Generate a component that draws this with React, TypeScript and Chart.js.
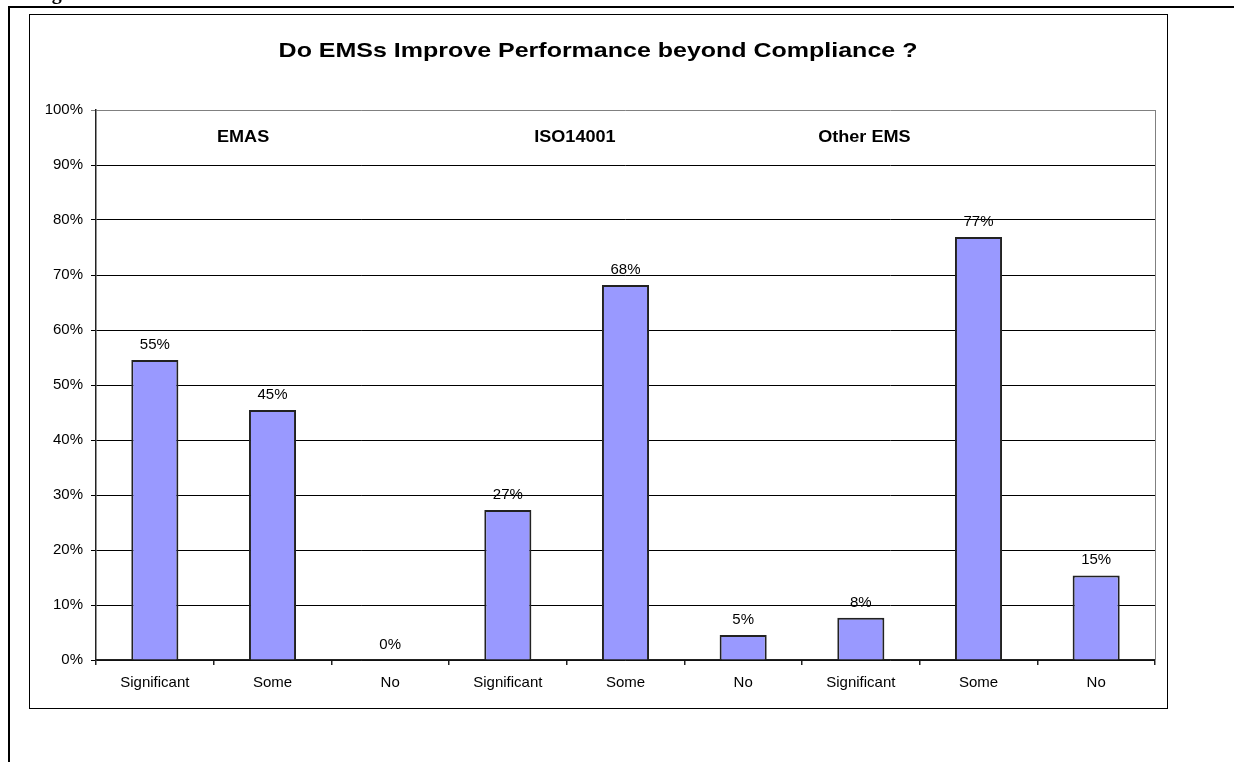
import React, { useEffect, useRef } from "react";
import { Chart, registerables } from "chart.js";

Chart.register(...registerables);

// Survey answers per EMS type
const CATEGORIES = ["Significant", "Some", "No", "Significant", "Some", "No", "Significant", "Some", "No"];
const SHARES = [54.55, 45.45, 0, 27.27, 68.18, 4.55, 7.69, 76.92, 15.38];
const GROUPS = ["EMAS", "ISO14001", "Other EMS"];
const TITLE = "Do EMSs Improve Performance beyond Compliance ?";
const Y_MAX = 100;
const Y_STEP = 10;

// Where each group caption sits, in category-index units
const GROUP_AT = [0.75, 3.57, 6.03];

const SANS = "'Liberation Sans', Arial, sans-serif";

const annotations = {
  id: "annotations",
  afterDatasetsDraw(chart: any) {
    const { ctx, chartArea } = chart;
    const x = chart.scales.x;
    ctx.save();

    // plot-area right edge
    ctx.strokeStyle = "#808080";
    ctx.lineWidth = 1;
    ctx.beginPath();
    ctx.moveTo(Math.round(chartArea.right) + 0.5, chartArea.top);
    ctx.lineTo(Math.round(chartArea.right) + 0.5, chartArea.bottom);
    ctx.stroke();

    // value labels
    ctx.fillStyle = "#000";
    ctx.font = `15px ${SANS}`;
    ctx.textAlign = "center";
    ctx.textBaseline = "alphabetic";
    const meta = chart.getDatasetMeta(0);
    meta.data.forEach((bar: any, i: number) => {
      ctx.fillText(`${Math.round(SHARES[i])}%`, bar.x, bar.y - 11);
    });

    // group captions (stretched bold text)
    ctx.font = `bold 16px ${SANS}`;
    GROUPS.forEach((g, i) => {
      ctx.save();
      ctx.translate(x.getPixelForValue(GROUP_AT[i]), 142);
      ctx.scale(1.13, 1);
      ctx.fillText(g, 0, 0);
      ctx.restore();
    });

    // title
    ctx.font = `bold 21px ${SANS}`;
    ctx.save();
    ctx.translate(598, 57);
    ctx.scale(1.19, 1);
    ctx.fillText(TITLE, 0, 0);
    ctx.restore();

    ctx.restore();
  },
};

const background = {
  id: "background",
  beforeDraw(chart: any) {
    const { ctx, width, height } = chart;
    ctx.save();
    ctx.fillStyle = "#fff";
    ctx.fillRect(0, 0, width, height);
    ctx.restore();
  },
};

export default function App() {
  const canvasRef = useRef<HTMLCanvasElement>(null);

  useEffect(() => {
    if (!canvasRef.current) return;
    const chart = new Chart(canvasRef.current, {
      type: "bar",
      data: {
        labels: CATEGORIES,
        datasets: [
          {
            data: SHARES,
            backgroundColor: "#9999FF",
            borderColor: "#222",
            borderWidth: 2,
            categoryPercentage: 1,
            barPercentage: 0.4,
          },
        ],
      },
      options: {
        responsive: false,
        animation: false,
        events: [],
        layout: { padding: { left: 0, top: 110, right: 79, bottom: 0 } },
        plugins: {
          legend: { display: false },
          title: { display: false },
          tooltip: { enabled: false },
        },
        scales: {
          x: {
            afterFit(scale: any) {
              scale.height = 102;
            },
            grid: {
              drawOnChartArea: false,
              drawTicks: true,
              tickLength: 5,
              color: "#222",
              lineWidth: 1.5,
              offset: true,
            },
            border: { color: "#222", width: 1.5 },
            ticks: {
              color: "#000",
              padding: 9,
              font: { family: SANS, size: 15 },
              maxRotation: 0,
              autoSkip: false,
            },
          },
          y: {
            min: 0,
            max: Y_MAX,
            afterFit(scale: any) {
              scale.width = 96;
            },
            grid: {
              color: (c: any) => (c.tick && c.tick.value === Y_MAX ? "#808080" : "#000"),
              lineWidth: 1,
              tickLength: 5,
            },
            border: { color: "#222", width: 1.5 },
            ticks: {
              stepSize: Y_STEP,
              color: "#000",
              padding: 8,
              font: { family: SANS, size: 15 },
              callback: (v: any) => `${v}%`,
            },
          },
        },
      },
      plugins: [background, annotations],
    });
    return () => chart.destroy();
  }, []);

  return (
    <div
      style={{
        position: "absolute",
        left: 0,
        top: 0,
        width: 1234,
        height: 762,
        overflow: "hidden",
        background: "#fff",
      }}
    >
      <canvas ref={canvasRef} width={1234} height={762} style={{ position: "absolute", left: 0, top: 0 }} />
      <div
        style={{
          position: "absolute",
          left: 34,
          top: -19,
          font: "bold 20px 'Liberation Serif', 'Times New Roman', serif",
          whiteSpace: "nowrap",
        }}
      >
        Figure 5:
      </div>
      {/* page rules */}
      <div style={{ position: "absolute", left: 8, top: 6, width: 1226, height: 2, background: "#000" }} />
      <div style={{ position: "absolute", left: 8, top: 6, width: 2, height: 756, background: "#000" }} />
      {/* chart frame */}
      <div
        style={{
          position: "absolute",
          left: 29,
          top: 14,
          width: 1137,
          height: 693,
          border: "1px solid #000",
          pointerEvents: "none",
        }}
      />
    </div>
  );
}
